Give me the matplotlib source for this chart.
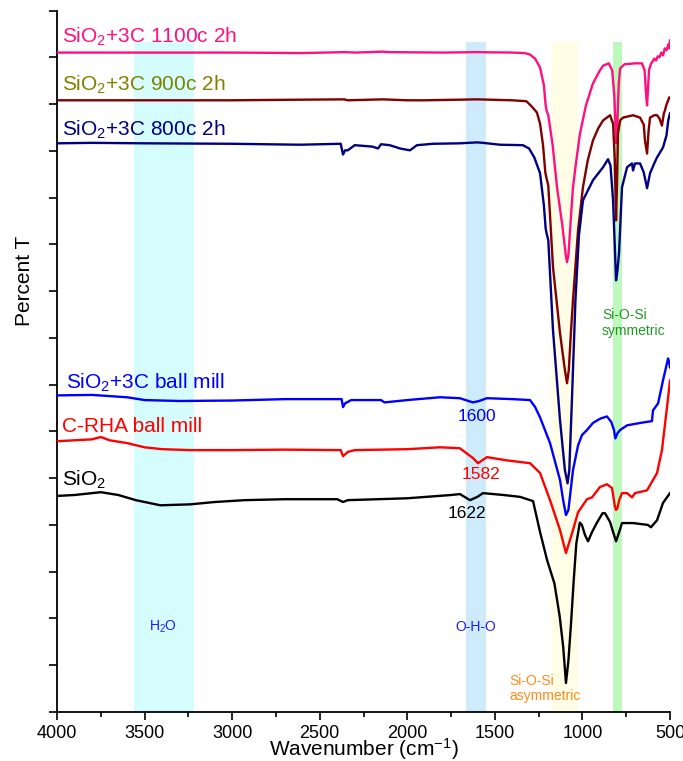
import matplotlib
matplotlib.use("Agg")
import matplotlib.pyplot as plt
from matplotlib.ticker import MultipleLocator, NullFormatter

plt.rcParams['font.family'] = ['Liberation Sans', 'DejaVu Sans']
plt.rcParams['mathtext.fontset'] = 'custom'
plt.rcParams['mathtext.rm'] = 'Liberation Sans'
plt.rcParams['mathtext.it'] = 'Liberation Sans:italic'
plt.rcParams['mathtext.bf'] = 'Liberation Sans:bold'

# ---------------- data (wavenumber, offset transmittance) ----------------
wn_1100 = [4000, 3500, 3000, 2600, 2350, 2300, 2140, 2100, 1800, 1600, 1400, 1330, 1300, 1270, 1242, 1220,
           1210, 1205, 1195, 1170, 1145, 1115, 1095, 1088, 1080, 1065, 1054, 1035, 1014, 980, 940, 900, 882,
           850, 830, 818, 810, 806, 800, 793, 785, 760, 700, 660, 645, 636, 631, 626, 620, 610, 590, 580,
           570, 560, 550, 540, 530, 520, 510, 505, 500]
t_1100 = [14.10, 14.10, 14.10, 14.09, 14.11, 14.10, 14.12, 14.11, 14.10, 14.11, 14.10, 14.09, 14.06, 13.97,
          13.78, 13.40, 12.97, 12.86, 12.76, 12.12, 11.22, 10.41, 9.77, 9.62, 9.77, 10.62, 11.22, 11.79, 12.37,
          12.97, 13.44, 13.72, 13.82, 13.87, 13.72, 13.18, 12.44, 12.16, 12.65, 13.40, 13.76, 13.85, 13.87,
          13.87, 13.72, 13.18, 12.97, 13.29, 13.72, 13.85, 13.97, 13.93, 14.02, 14.00, 14.10, 14.04, 14.19,
          14.15, 14.27, 14.19, 14.36]

wn_900 = [4000, 3500, 3000, 2700, 2360, 2340, 2140, 2000, 1900, 1600, 1400, 1320, 1290, 1260, 1242, 1225,
          1212, 1206, 1195, 1168, 1128, 1100, 1088, 1078, 1065, 1054, 1025, 997, 970, 940, 910, 882, 842, 825,
          815, 808, 802, 797, 785, 768, 711, 671, 650, 643, 631, 622, 614, 590, 574, 560, 546, 535, 529, 520,
          510, 505, 500]
t_900 = [13.08, 13.08, 13.08, 13.09, 13.10, 13.08, 13.10, 13.08, 13.08, 13.10, 13.08, 13.06, 12.95, 12.82,
         12.58, 12.12, 11.54, 11.43, 11.26, 9.51, 8.10, 7.31, 7.03, 7.31, 8.16, 8.80, 10.30, 11.22, 11.79, 12.22,
         12.48, 12.65, 12.76, 12.58, 11.79, 10.51, 11.37, 12.37, 12.65, 12.71, 12.76, 12.71, 12.56, 12.22, 11.94,
         12.44, 12.71, 12.76, 12.76, 12.69, 12.54, 12.80, 12.86, 12.99, 13.08, 13.14, 13.14]

wn_800 = [4000, 3800, 3500, 3000, 2613, 2380, 2367, 2355, 2340, 2300, 2200, 2167, 2150, 2100, 2042, 1985,
          1945, 1853, 1700, 1600, 1568, 1471, 1340, 1305, 1275, 1242, 1220, 1210, 1205, 1195, 1168, 1128, 1100,
          1085, 1075, 1060, 1040, 1020, 997, 940, 882, 854, 840, 825, 808, 800, 791, 774, 745, 717, 711, 700,
          671, 650, 631, 614, 590, 574, 540, 520, 510, 500]
t_800 = [12.16, 12.17, 12.16, 12.15, 12.13, 12.15, 11.92, 12.01, 12.01, 12.12, 12.09, 12.05, 12.14, 12.12,
         12.05, 12.01, 12.12, 12.15, 12.16, 12.18, 12.17, 12.13, 12.12, 12.05, 11.86, 11.52, 10.83, 10.34,
         10.24, 10.09, 8.16, 6.24, 5.17, 4.89, 5.17, 6.67, 8.80, 10.19, 10.94, 11.37, 11.65, 11.82, 11.69,
         10.94, 9.23, 9.44, 9.81, 11.22, 11.65, 11.73, 11.58, 11.73, 11.73, 11.54, 11.20, 11.52, 11.73, 11.86,
         12.07, 12.33, 12.65, 12.80]

wn_bm = [4000, 3800, 3600, 3500, 3300, 3000, 2700, 2400, 2375, 2367, 2355, 2320, 2150, 2130, 2000, 1813, 1700,
         1625, 1590, 1545, 1400, 1299, 1270, 1242, 1185, 1128, 1110, 1094, 1080, 1054, 1025, 1003, 974, 940,
         900, 860, 835, 820, 812, 800, 785, 745, 671, 603, 597, 568, 540, 511, 505, 500]
t_bm = [6.77, 6.78, 6.73, 6.67, 6.65, 6.66, 6.69, 6.69, 6.69, 6.52, 6.60, 6.67, 6.67, 6.62, 6.67, 6.73, 6.71,
        6.62, 6.65, 6.71, 6.69, 6.67, 6.52, 6.30, 5.75, 4.96, 4.53, 4.21, 4.32, 5.17, 5.70, 5.92, 6.03, 6.18,
        6.27, 6.32, 6.20, 6.03, 5.85, 5.96, 6.03, 6.13, 6.18, 6.22, 6.45, 6.60, 7.09, 7.56, 7.48, 7.37]

wn_rha = [4000, 3900, 3800, 3750, 3700, 3600, 3500, 3400, 3240, 3000, 2700, 2380, 2367, 2340, 2300, 2000,
          1813, 1700, 1625, 1596, 1545, 1431, 1299, 1242, 1185, 1128, 1094, 1054, 1025, 974, 945, 900, 860,
          831, 815, 808, 800, 790, 774, 745, 717, 700, 631, 574, 546, 517, 500]
t_rha = [5.79, 5.81, 5.83, 5.88, 5.81, 5.75, 5.66, 5.62, 5.60, 5.60, 5.61, 5.60, 5.47, 5.56, 5.60, 5.62, 5.66,
         5.64, 5.43, 5.32, 5.45, 5.38, 5.32, 5.11, 4.53, 3.89, 3.40, 3.89, 4.27, 4.55, 4.59, 4.81, 4.87, 4.79,
         4.40, 4.32, 4.36, 4.53, 4.68, 4.68, 4.59, 4.68, 4.74, 5.11, 5.60, 6.52, 7.09]

wn_sio2 = [4000, 3900, 3750, 3650, 3550, 3410, 3240, 3100, 2927, 2700, 2400, 2367, 2340, 2000, 1750, 1700,
           1642, 1600, 1568, 1450, 1356, 1282, 1242, 1202, 1160, 1130, 1110, 1094, 1080, 1065, 1050, 1035,
           1015, 1003, 985, 968, 945, 917, 885, 871, 842, 825, 808, 790, 774, 745, 711, 626, 609, 574, 540, 500]
t_sio2 = [4.62, 4.64, 4.70, 4.64, 4.53, 4.42, 4.44, 4.49, 4.53, 4.55, 4.55, 4.49, 4.53, 4.57, 4.64, 4.66,
          4.53, 4.60, 4.68, 4.64, 4.60, 4.51, 3.85, 3.25, 2.75, 2.05, 1.40, 0.62, 1.10, 1.90, 2.80, 3.60, 4.05,
          4.00, 3.78, 3.65, 3.85, 4.05, 4.25, 4.25, 4.06, 3.85, 3.65, 3.85, 4.04, 4.04, 4.04, 4.00, 3.95, 4.10,
          4.47, 4.68]

series_labels = ['SiO$_2$+3C 1100c 2h', 'SiO$_2$+3C 900c 2h', 'SiO$_2$+3C 800c 2h',
                 'SiO$_2$+3C ball mill', 'C-RHA ball mill', 'SiO$_2$']

bands = [(3560, 3220), (1665, 1550), (1180, 1025), (825, 775)]
band_top = 14.32

xticks = [4000, 3500, 3000, 2500, 2000, 1500, 1000, 500]

# ---------------- figure ----------------
fig = plt.figure(figsize=(6.83, 7.61), dpi=100)
ax = fig.add_axes([57 / 683, 1 - 712 / 761, 613 / 683, 701.5 / 761])

band_colors = ['#d6fdfd', '#cdebfb', '#fffde6', '#bdf9bd']
for (a, b), c in zip(bands, band_colors):
    ax.fill_between([a, b], 0, band_top, color=c, lw=0, zorder=0)

lw = 1.7
ax.plot(wn_1100, t_1100, color='#ff0f80', lw=lw, zorder=3)
ax.plot(wn_900, t_900, color='#800000', lw=lw, zorder=3)
ax.plot(wn_800, t_800, color='#000080', lw=lw, zorder=3)
ax.plot(wn_bm, t_bm, color='#0000ff', lw=lw, zorder=3)
ax.plot(wn_rha, t_rha, color='#ff0000', lw=lw, zorder=3)
ax.plot(wn_sio2, t_sio2, color='#000000', lw=lw, zorder=3)

lab_fs = 15
ax.text(3972, 14.32, series_labels[0], color='#ff0f80', fontsize=lab_fs, va='baseline')
ax.text(3972, 13.29, series_labels[1], color='#808000', fontsize=lab_fs, va='baseline')
ax.text(3972, 12.33, series_labels[2], color='#000080', fontsize=lab_fs, va='baseline')
ax.text(3950, 6.92, series_labels[3], color='#0000ff', fontsize=lab_fs, va='baseline')
ax.text(3972, 5.98, series_labels[4], color='#ff0000', fontsize=lab_fs, va='baseline')
ax.text(3972, 4.83, series_labels[5], color='#000000', fontsize=lab_fs, va='baseline')

ann_fs = 12.5
ax.text(1602, 6.22, '1600', color='#0000ff', fontsize=ann_fs, ha='center', va='baseline')
ax.text(1579, 4.98, '1582', color='#ff0000', fontsize=ann_fs, ha='center', va='baseline')
ax.text(1659, 4.15, '1622', color='#000000', fontsize=ann_fs, ha='center', va='baseline')

ax.text(3395, 1.73, 'H$_2$O', color='#1a1aff', fontsize=10, ha='center', va='baseline')
ax.text(1608, 1.73, 'O-H-O', color='#1a1aff', fontsize=10, ha='center', va='baseline')
ax.text(1419, 0.82, 'Si-O-Si\nasymmetric', color='#ff8c1a', fontsize=10, ha='left', va='top',
        linespacing=1.15)
ax.text(888, 8.64, 'Si-O-Si\nsymmetric', color='#229922', fontsize=10, ha='left', va='top',
        linespacing=1.15)

ax.set_xlim(4000, 500)
ax.set_ylim(0, 15)
ax.set_xticks(xticks)
ax.xaxis.set_minor_locator(MultipleLocator(250))
ax.yaxis.set_major_locator(MultipleLocator(1))
ax.yaxis.set_major_formatter(NullFormatter())
ax.tick_params(axis='x', which='major', length=6, width=1.2, labelsize=13, pad=3)
ax.tick_params(axis='x', which='minor', length=3.5, width=1.2)
ax.tick_params(axis='y', which='major', length=6, width=1.2)
for s in ['top', 'right']:
    ax.spines[s].set_visible(False)
for s in ['left', 'bottom']:
    ax.spines[s].set_linewidth(1.3)

ax.set_xlabel('Wavenumber (cm$^{-1}$)', fontsize=15, labelpad=-4)
ax.set_ylabel('Percent T', fontsize=15)
ax.yaxis.set_label_coords(-0.038, 0.615)

fig.savefig('out.png', dpi=100)
